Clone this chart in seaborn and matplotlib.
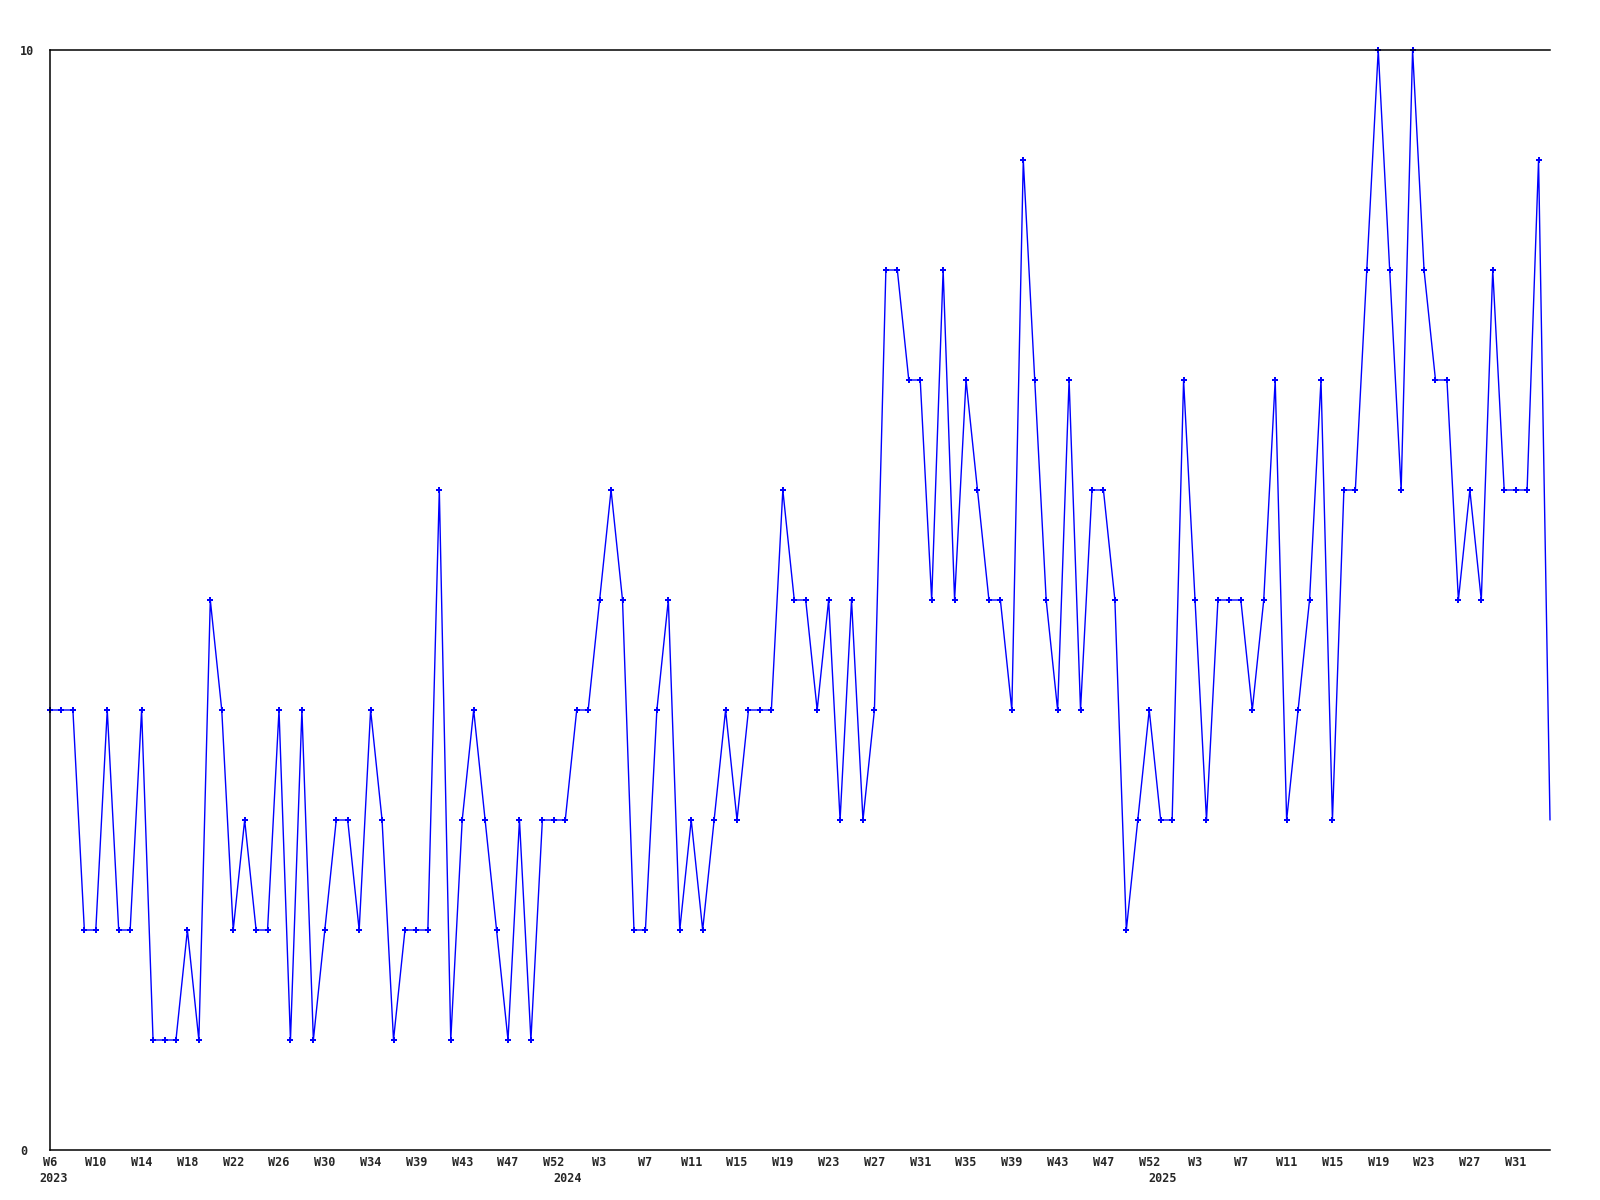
import numpy as np
import pandas as pd
import matplotlib
matplotlib.use("Agg")
import matplotlib.pyplot as plt
import seaborn as sns

# weekly counts, 2023 W6 onwards
values = [4, 4, 4, 2, 2, 4, 2, 2, 4, 1, 1, 1, 2, 1, 5, 4, 2, 3, 2, 2,
          4, 1, 4, 1, 2, 3, 3, 2, 4, 3, 1, 2, 2, 2, 6, 1, 3, 4, 3, 2,
          1, 3, 1, 3, 3, 3, 4, 4, 5, 6, 5, 2, 2, 4, 5, 2, 3, 2, 3, 4,
          3, 4, 4, 4, 6, 5, 5, 4, 5, 3, 5, 3, 4, 8, 8, 7, 7, 5, 8, 5,
          7, 6, 5, 5, 4, 9, 7, 5, 4, 7, 4, 6, 6, 5, 2, 3, 4, 3, 3, 7,
          5, 3, 5, 5, 5, 4, 5, 7, 3, 4, 5, 7, 3, 6, 6, 8, 10, 8, 6, 10,
          8, 7, 7, 5, 6, 5, 8, 6, 6, 6, 9, 3]

week_labels = ["W6", "W10", "W14", "W18", "W22", "W26", "W30", "W34", "W39",
               "W43", "W47", "W52", "W3", "W7", "W11", "W15", "W19", "W23",
               "W27", "W31", "W35", "W39", "W43", "W47", "W52", "W3", "W7",
               "W11", "W15", "W19", "W23", "W27", "W31"]
years = ["2023", "2024", "2025"]
year_pos = [0.3, 45.2, 97.2]

df = pd.DataFrame({"idx": np.arange(len(values)), "count": values})

sns.set_style("white")
plt.rcParams["font.family"] = ["DejaVu Sans Mono"]
plt.rcParams["font.weight"] = "bold"

fig, ax = plt.subplots(figsize=(16, 12), dpi=100)
fig.subplots_adjust(left=50 / 1600, right=1550 / 1600, top=1 - 50 / 1200, bottom=1 - 1150 / 1200)

sns.lineplot(data=df, x="idx", y="count", ax=ax, color="#0000ff", linewidth=1,
             marker="P", markersize=4, markeredgewidth=0,
             markevery=list(range(len(values) - 1)), clip_on=False)

ax.set_xlim(0, len(values) - 1)
ax.set_ylim(0, 10)

ax.set_xticks(range(0, len(week_labels) * 4, 4))
ax.set_xticklabels(week_labels, fontsize=8.5, fontweight="bold")
ax.set_yticks([0, 10])
ax.set_yticklabels(["0", "10"], fontsize=8.5, fontweight="bold", ha="left")
ax.tick_params(axis="x", length=0, pad=4.5)
ax.tick_params(axis="y", length=0, pad=21.6)

for yr, pos in zip(years, year_pos):
    ax.annotate(yr, xy=(pos, 0), xycoords=("data", "axes fraction"),
                xytext=(0, -15.5), textcoords="offset points",
                ha="center", va="top", fontsize=8.5, fontweight="bold")

ax.set_xlabel("")
ax.set_ylabel("")
for side in ["left", "top", "bottom"]:
    ax.spines[side].set_color("black")
    ax.spines[side].set_linewidth(1.1)
ax.spines["right"].set_visible(False)

fig.savefig("out.png", dpi=100)
